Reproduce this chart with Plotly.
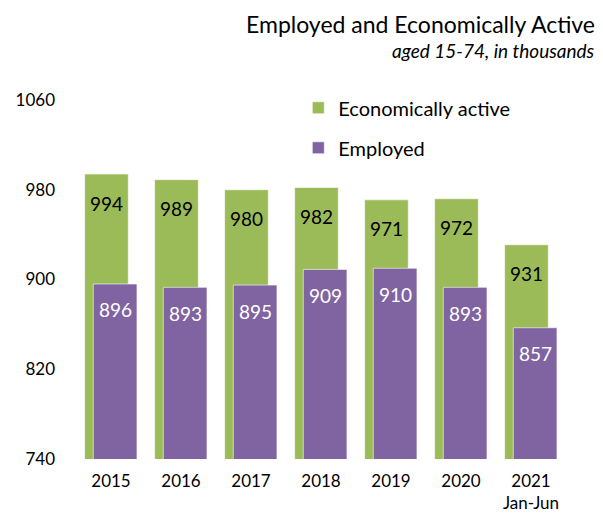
import plotly.graph_objects as go

categories = ["2015", "2016", "2017", "2018", "2019", "2020", "2021"]
tick_labels = ["2015", "2016", "2017", "2018", "2019", "2020", "2021<br>Jan-Jun"]
economically_active = [994, 989, 980, 982, 971, 972, 931]
employed = [896, 893, 895, 909, 910, 893, 857]
y_ticks = [740, 820, 900, 980, 1060]

GREEN = "#9BBB59"
PURPLE = "#8064A2"
FONT = "Lato"

BAR_W = 0.624
OFF_GREEN = -0.377
OFF_PURPLE = -0.253

fig = go.Figure()
fig.add_trace(go.Bar(
    x=categories, y=economically_active, name="Economically active",
    marker=dict(color=GREEN, line=dict(color="rgba(255,255,255,0.6)", width=1)),
    width=BAR_W, offset=OFF_GREEN, legend="legend",
    hoverinfo="x+y",
))
fig.add_trace(go.Bar(
    x=categories, y=employed, name="Employed",
    marker=dict(color=PURPLE, line=dict(color="rgba(255,255,255,0.6)", width=1)),
    width=BAR_W, offset=OFF_PURPLE, legend="legend2",
    hoverinfo="x+y",
))

L, R, T, B = 75.7, 37.3, 100.2, 53.6
W, H = 603, 513
pw, ph = W - L - R, H - T - B
cat_px = pw / len(categories)

annotations = []
green_shift = (OFF_GREEN + BAR_W / 2) * cat_px
purple_shift = (OFF_PURPLE + BAR_W / 2) * cat_px
for i, v in enumerate(economically_active):
    annotations.append(dict(x=i, y=v, xref="x", yref="y", text=str(v), showarrow=False,
                            xshift=green_shift, yshift=-29, yanchor="middle",
                            font=dict(family=FONT, size=19, color="#000000")))
for i, v in enumerate(employed):
    annotations.append(dict(x=i, y=v, xref="x", yref="y", text=str(v), showarrow=False,
                            xshift=purple_shift, yshift=-26, yanchor="middle",
                            font=dict(family=FONT, size=19, color="#FFFFFF")))

annotations.append(dict(x=(597 - L) / pw, y=(H - B - 24) / ph, xref="paper", yref="paper",
                        text="Employed and Economically Active",
                        showarrow=False, xanchor="right", yanchor="middle",
                        font=dict(family=FONT, size=23, color="#000000")))
annotations.append(dict(x=(597 - L) / pw, y=(H - B - 51) / ph, xref="paper", yref="paper",
                        text="<i>aged 15-74, in thousands</i>",
                        showarrow=False, xanchor="right", yanchor="middle",
                        font=dict(family=FONT, size=19, color="#000000")))

fig.update_layout(
    width=W, height=H,
    margin=dict(l=L, r=R, t=T, b=B, pad=0),
    paper_bgcolor="white", plot_bgcolor="white",
    barmode="overlay",
    font=dict(family=FONT, size=17, color="#000000"),
    annotations=annotations,
    showlegend=True,
    legend=dict(x=(298 - L) / pw, y=(H - B - 108) / ph, xanchor="left", yanchor="middle",
                font=dict(family=FONT, size=20), bgcolor="rgba(0,0,0,0)"),
    legend2=dict(x=(298 - L) / pw, y=(H - B - 148) / ph, xanchor="left", yanchor="middle",
                 font=dict(family=FONT, size=20), bgcolor="rgba(0,0,0,0)"),
    xaxis=dict(type="category", categoryorder="array", categoryarray=categories,
               tickvals=categories, ticktext=tick_labels, range=[-0.5, 6.5],
               showgrid=False, zeroline=False, showline=False, ticks="",
               tickfont=dict(family=FONT, size=17), ticklabelstandoff=10,
               automargin=False),
    yaxis=dict(range=[740, 1060], tickvals=y_ticks, showgrid=False, zeroline=False,
               showline=False, ticks="", tickfont=dict(family=FONT, size=17),
               ticklabelstandoff=20, automargin=False),
)

fig.write_html("out.html", post_script="document.body.style.margin='0';",
               config={"displayModeBar": False})
